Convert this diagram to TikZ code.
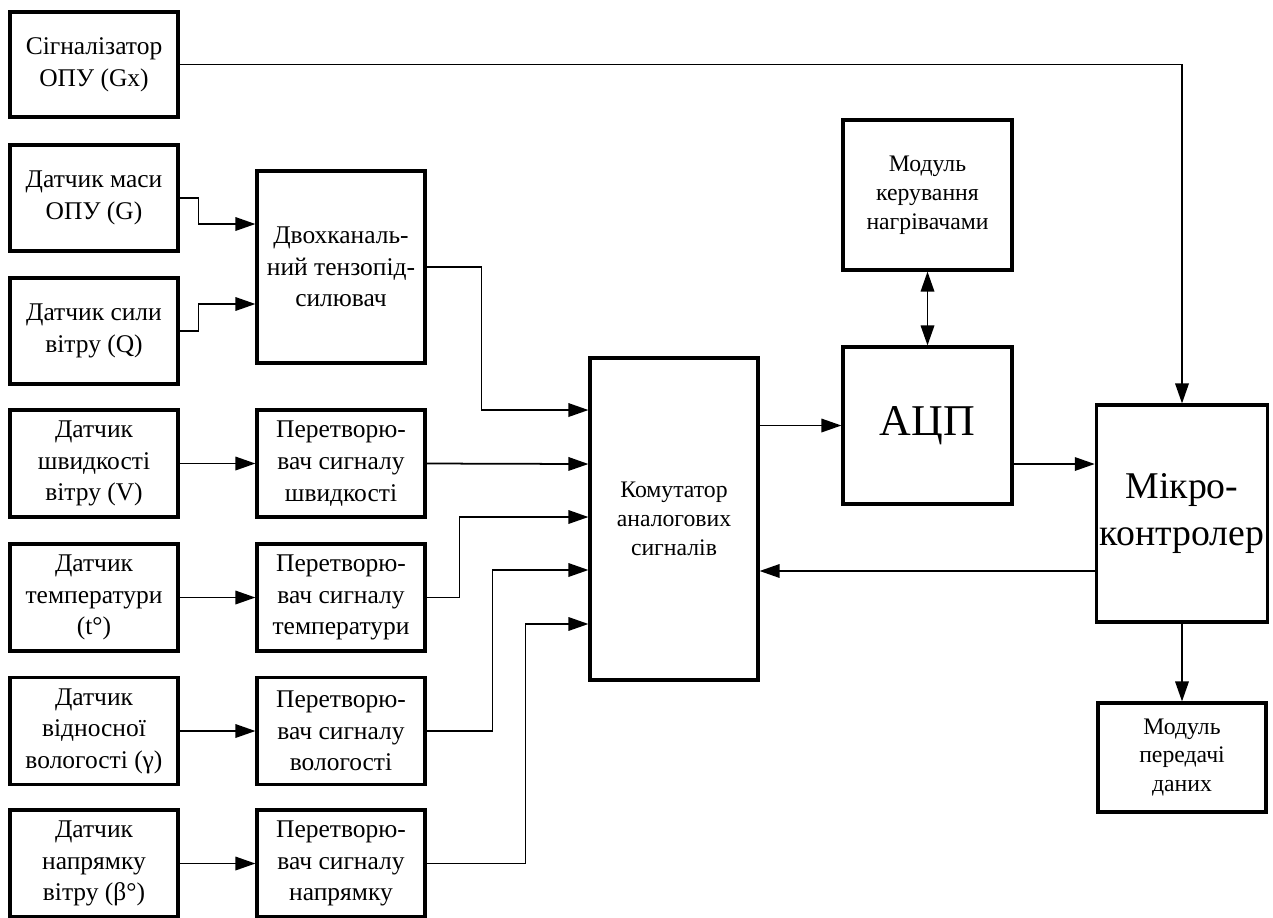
\documentclass[tikz,border=0pt]{standalone}
\usepackage{fontspec}
\setmainfont{Liberation Serif}
\usetikzlibrary{arrows.meta}

\tikzset{
    block/.style={draw, line width=1.8pt, minimum width=3.36cm, align=center, inner sep=2pt,
        font=\fontsize{14.5}{18}\selectfont},
    small/.style={font=\fontsize{13.5}{16.5}\selectfont},
    tip/.style={-{Triangle[length=0.4cm,width=0.27cm]}},
    link/.style={line width=1pt, tip},
}

\begin{document}
\begin{tikzpicture}[x=0.02cm, y=-0.02cm]
    \useasboundingbox (0,0) rectangle (1273,917);
    % sensors on top
    \node[block, minimum height=2.1cm] (sig) at (94,64.5) {Сігналізатор\\ОПУ (Gx)};
    \node[block, minimum height=2.12cm] (mas) at (94,198) {Датчик маси\\ОПУ (G)};
    \node[block, minimum height=2.12cm] (syl) at (94,331) {Датчик сили\\вітру (Q)};
    \node[block, minimum height=3.84cm] (dvo) at (341,267) {Двохканаль-\\ний тензопід-\\силювач};
    % sensors with converters
    \foreach \s/\c/\y [count=\i] in {
        {Датчик\\швидкості\\вітру (V)}/{швидкості}/463.5,
        {Датчик\\температури\\(t°)}/{температури}/597.5,
        {Датчик\\відносної\\вологості (γ)}/{вологості}/731,
        {Датчик\\напрямку\\вітру (β°)}/{напрямку}/863.5}
        {
            \node[block, minimum height=2.14cm] (S\i) at (94,\y) {\s};
            \node[block, minimum height=2.14cm] (P\i) at (341,\y) {Перетворю-\\вач сигналу\\\c};
            \draw[link] (S\i) -- (P\i);
        }
    % main blocks
    \node[block, small, minimum height=6.44cm] (kom) at (674,519) {Комутатор\\аналогових\\сигналів};
    \node[block, minimum height=3.14cm, minimum width=3.38cm, font=\fontsize{25}{30}\selectfont] (adc) at (927.5,425.5) {АЦП};
    \node[block, small, minimum height=3.0cm, minimum width=3.38cm] (mod) at (927.5,195) {Модуль\\керування\\нагрівачами};
    \node[block, minimum height=4.34cm, font=\fontsize{21.5}{26.5}\selectfont] (mcu) at (1182,513.5) {Мікро-\\контролер};
    \node[block, small, minimum height=2.18cm] (tx) at (1182,757.5) {Модуль\\передачі\\даних};
    % inputs of the tensoamplifier
    \draw[link] (mas.east) -- ++(19,0) |- ([yshift=0.86cm]dvo.west);
    \draw[link] (syl.east) -- ++(19,0) |- ([yshift=-0.74cm]dvo.west);
    % inputs of the commutator
    \draw[link] (dvo.east) -- ++(55,0) |- ([yshift=2.18cm]kom.west);
    \draw[link] (P1.east) -- ([yshift=1.1cm]kom.west);
    \draw[link] (P2.east) -- ++(33,0) |- ([yshift=0.04cm]kom.west);
    \draw[link] (P3.east) -- ++(66,0) |- ([yshift=-1.02cm]kom.west);
    \draw[link] (P4.east) -- ++(99,0) |- ([yshift=-2.1cm]kom.west);
    % adc and microcontroller
    \draw[link] (adc.west -| kom.east) -- (adc.west);
    \draw[link, {Triangle[length=0.4cm,width=0.27cm]}-{Triangle[length=0.4cm,width=0.27cm]}] (mod) -- (adc);
    \draw[link] ([yshift=-0.77cm]adc.east) -- ([yshift=-0.77cm]adc.east -| mcu.west);
    \draw[link] ([yshift=-1.15cm]mcu.west) -- ([yshift=-1.15cm]mcu.west -| kom.east);
    \draw[link] (sig.east) -| (mcu.north);
    \draw[link] (mcu) -- (tx);
\end{tikzpicture}
\end{document}
